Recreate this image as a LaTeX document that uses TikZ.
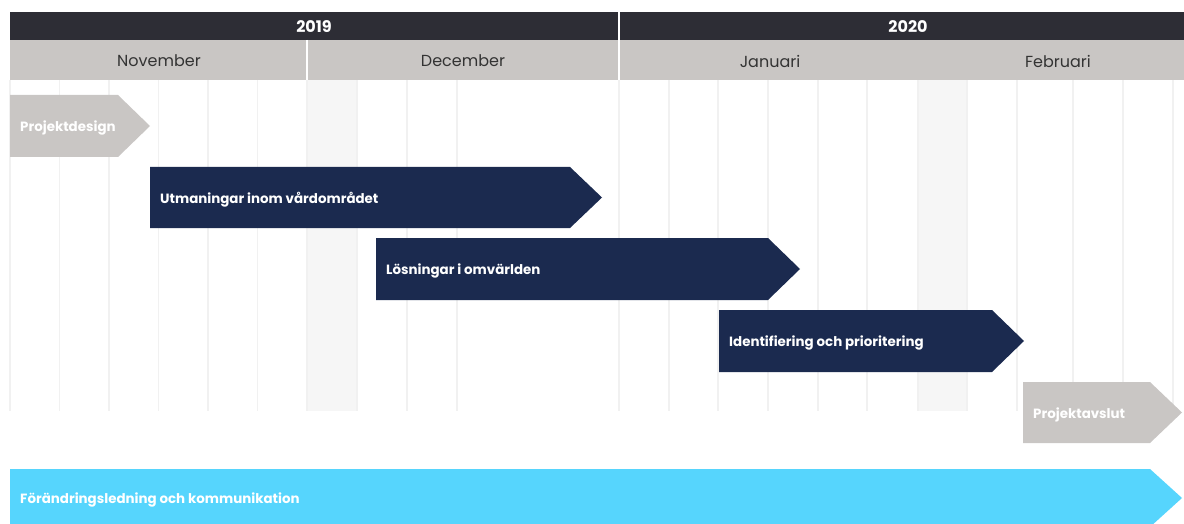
\documentclass[tikz,border=0pt]{standalone}
\usepackage{fontspec}
\setmainfont{Poppins}
\definecolor{navy}{HTML}{1B2A4F}
\definecolor{stone}{HTML}{C9C6C4}
\definecolor{sky}{HTML}{56D5FD}
\definecolor{headdark}{HTML}{2D2D35}
\definecolor{gridgrey}{HTML}{F1F1F1}
\definecolor{holiday}{HTML}{F6F6F6}
\definecolor{monthtext}{HTML}{333333}
\begin{document}
\begin{tikzpicture}[x=1pt,y=-1pt,
    barlabel/.style={anchor=west,text=white,inner sep=0pt,font=\bfseries\fontsize{13.4}{15}\selectfont},
    monthlabel/.style={text=monthtext,font=\fontsize{16}{18}\selectfont},
    yearlabel/.style={text=white,font=\bfseries\fontsize{16}{18}\selectfont},
    gridline/.style={draw=gridgrey,line width=1.5pt}]
    \useasboundingbox (0,0) rectangle (1184,524);
    \fill[holiday] (307,80) rectangle (357,411);
    \fill[holiday] (918,80) rectangle (967,411);
    \foreach \x in {10,59.5,109,158.5,208,257.5,307,357,407,457,619,669,718,768,818,867,918,967,1017,1073,1123,1173}
        \draw[gridline] (\x,80) -- (\x,411);

    \fill[headdark] (10,12) rectangle (1184,40);
    \fill[stone] (10,40) rectangle (1184,80);
    \draw[white,line width=2pt]
        (619,12) -- (619,80)
        (307,40) -- (307,80)
    ;
    \node[yearlabel] (y2019) at (314,26.5) {2019};
    \node[yearlabel] (y2020) at (908,26.5) {2020};
    \node[monthlabel] (nov) at (159,61) {November};
    \node[monthlabel] (dec) at (463,61) {December};
    \node[monthlabel] (jan) at (770,61) {Januari};
    \node[monthlabel] (feb) at (1058,61) {Februari};

    \foreach \name/\col/\xa/\xb/\yt/\h/\txt in {
            design/stone/10/118/95/62/Projektdesign,
            utmaning/navy/150/570/167/61/Utmaningar inom vårdområdet,
            losning/navy/376/768/238/62/Lösningar i omvärlden,
            prio/navy/719/992/310/62/Identifiering och prioritering,
            avslut/stone/1023/1150/382/61/Projektavslut,
            forandring/sky/10/1150/469/58/Förändringsledning och kommunikation} {
        \fill[fill=\col] (\xa,\yt) -- (\xb,\yt) -- ({\xb+32},{\yt+\h/2})
            -- (\xb,{\yt+\h}) -- (\xa,{\yt+\h}) -- cycle;
        \node[barlabel] (\name) at ({\xa+10},{\yt+\h/2+2}) {\txt};
    }
\end{tikzpicture}
\end{document}
